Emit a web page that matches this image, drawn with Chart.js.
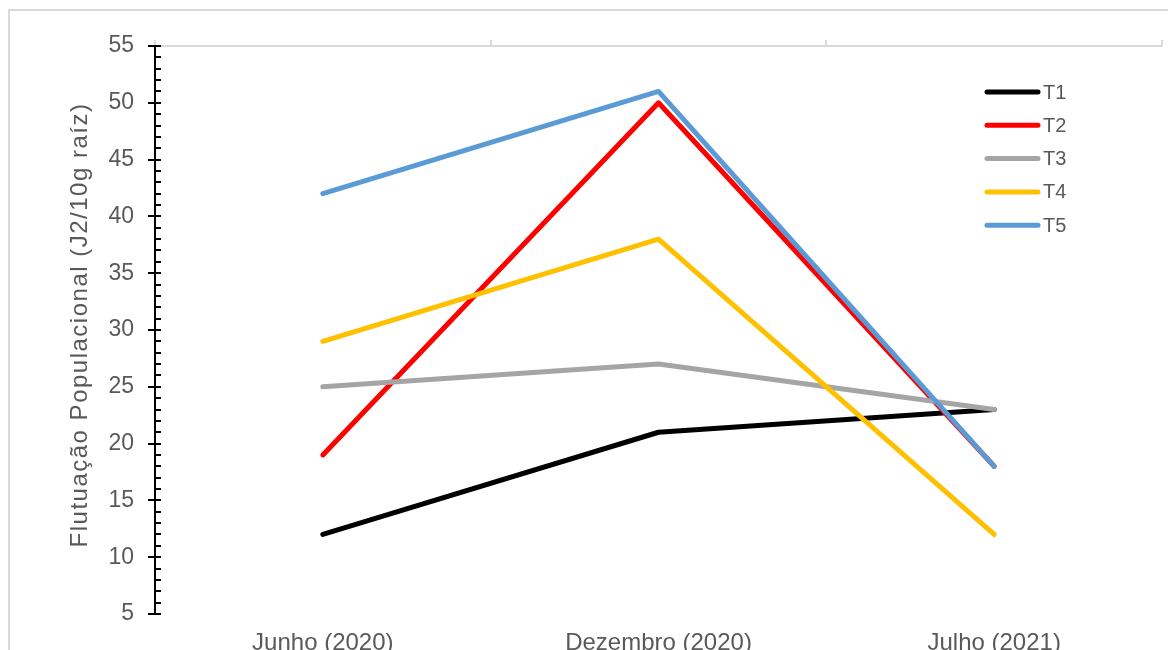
<!DOCTYPE html>
<html>
<head>
<meta charset="utf-8">
<script src="https://cdn.jsdelivr.net/npm/chart.js@4"></script>
<style>
  body { margin: 0; background: #fff; }
  canvas { display: block; }
</style>
</head>
<body>
<canvas id="chart" width="1168" height="650"></canvas>
<script>
// dados
const categorias = ["Junho (2020)", "Dezembro (2020)", "Julho (2021)"];
const nomes = ["T1", "T2", "T3", "T4", "T5"];
const t1 = [12, 21, 23];
const t2 = [19, 50, 18];
const t3 = [25, 27, 23];
const t4 = [29, 38, 12];
const t5 = [42, 51, 18];
const cores = ["#000000", "#ff0000", "#a5a5a5", "#ffc000", "#5b9bd5"];
const yTicks = [5, 10, 15, 20, 25, 30, 35, 40, 45, 50, 55];
const tituloY = "Flutuação Populacional (J2/10g raíz)";

const fonte = "Arial, 'Liberation Sans', sans-serif";
const cinzaTexto = "#595959";

// moldura, eixos, título e legenda desenhados à mão (estilo Excel)
const extras = {
  id: "extras",
  beforeDraw(chart) {
    const ctx = chart.ctx;
    ctx.save();
    ctx.fillStyle = "#fff";
    ctx.fillRect(0, 0, chart.width, chart.height);
    ctx.strokeStyle = "#d9d9d9";
    ctx.lineWidth = 2;
    ctx.strokeRect(9, 10, chart.width + 20, chart.height + 20);
    ctx.restore();
  },
  beforeDatasetsDraw(chart) {
    const ctx = chart.ctx;
    const area = chart.chartArea;
    const x = chart.scales.x;
    const y = chart.scales.y;
    ctx.save();

    // linha do eixo horizontal no topo, com marcas entre categorias
    ctx.strokeStyle = "#d9d9d9";
    ctx.lineWidth = 2;
    ctx.beginPath();
    ctx.moveTo(area.left, area.top);
    ctx.lineTo(area.right, area.top);
    const meio = (x.getPixelForValue(1) - x.getPixelForValue(0)) / 2;
    for (let i = 0; i <= categorias.length; i++) {
      const px = Math.round(x.getPixelForValue(i) - meio);
      ctx.moveTo(px, area.top);
      ctx.lineTo(px, area.top - 6);
    }
    ctx.stroke();

    // eixo vertical preto com marcas principais e secundárias
    ctx.strokeStyle = "#000";
    ctx.lineWidth = 2;
    ctx.beginPath();
    ctx.moveTo(area.left, area.top);
    ctx.lineTo(area.left, area.bottom + 1);
    for (let v = y.min; v <= y.max; v++) {
      const py = Math.round(y.getPixelForValue(v));
      if (v % 5 === 0) {
        ctx.moveTo(area.left - 7, py);
      } else {
        ctx.moveTo(area.left, py);
      }
      ctx.lineTo(area.left + 6, py);
    }
    ctx.stroke();

    // título do eixo y
    ctx.translate(80, (area.top + area.bottom) / 2 - 5);
    ctx.rotate(-Math.PI / 2);
    ctx.fillStyle = cinzaTexto;
    ctx.font = "24px " + fonte;
    if ("letterSpacing" in ctx) ctx.letterSpacing = "1.5px";
    ctx.textAlign = "center";
    ctx.textBaseline = "middle";
    ctx.fillText(tituloY, 0, 0);
    ctx.restore();
  },
  afterDraw(chart) {
    const ctx = chart.ctx;
    ctx.save();
    chart.data.datasets.forEach((ds, i) => {
      const ly = 92 + i * 33.3;
      ctx.strokeStyle = ds.borderColor;
      ctx.lineWidth = 5;
      ctx.lineCap = "round";
      ctx.beginPath();
      ctx.moveTo(987, ly);
      ctx.lineTo(1038, ly);
      ctx.stroke();
      ctx.fillStyle = cinzaTexto;
      ctx.font = "20px " + fonte;
      ctx.textBaseline = "middle";
      ctx.fillText(ds.label, 1043, ly + 1);
    });
    ctx.restore();
  }
};

const series = [t1, t2, t3, t4, t5];

new Chart(document.getElementById("chart"), {
  type: "line",
  data: {
    labels: categorias,
    datasets: series.map((valores, i) => ({
      label: nomes[i],
      data: valores,
      borderColor: cores[i],
      backgroundColor: cores[i],
      borderWidth: 5,
      pointRadius: 0,
      tension: 0,
      fill: false,
      borderCapStyle: "round",
      borderJoinStyle: "round",
      order: series.length - i
    }))
  },
  options: {
    responsive: false,
    animation: false,
    layout: { padding: { left: 60, right: 6, top: 46, bottom: 0 } },
    plugins: {
      legend: { display: false },
      tooltip: { enabled: false }
    },
    scales: {
      x: {
        offset: true,
        grid: { display: false, drawTicks: false },
        border: { display: false },
        ticks: {
          color: cinzaTexto,
          font: { family: fonte, size: 24 },
          padding: 15,
          maxRotation: 0,
          autoSkip: false
        },
        afterFit(scale) { scale.height = 36; }
      },
      y: {
        min: 5,
        max: 55,
        grid: { display: false, drawTicks: false },
        border: { display: false },
        afterBuildTicks(scale) {
          scale.ticks = yTicks.map(v => ({ value: v }));
        },
        ticks: {
          color: cinzaTexto,
          font: { family: fonte, size: 23 },
          padding: 21
        },
        afterFit(scale) { scale.width = 95; }
      }
    }
  },
  plugins: [extras]
});
</script>
</body>
</html>
